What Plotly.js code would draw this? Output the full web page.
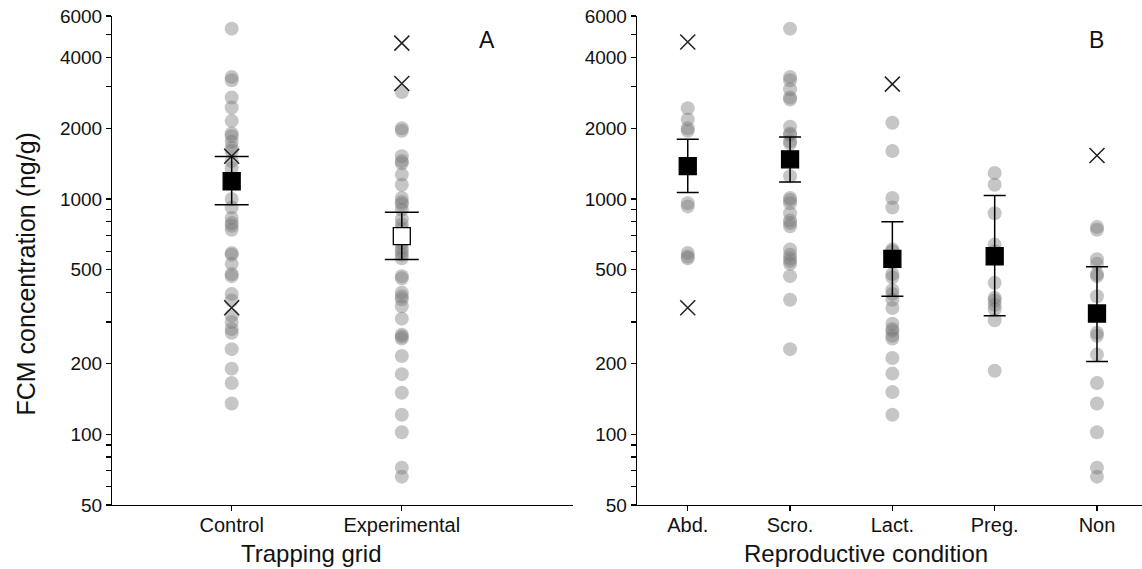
<!DOCTYPE html>
<html>
<head>
<meta charset="utf-8">
<script src="https://cdn.plot.ly/plotly-3.0.1.min.js"></script>
<style>html,body{margin:0;padding:0;background:#fff;}#chart{width:1142px;height:569px;}</style>
</head>
<body>
<div id="chart"></div>
<script>
// ---------- Panel A: Trapping grid ----------
const gridCategories = ["Control", "Experimental"];
const controlDots = [5300, 3300, 3200, 2700, 2450, 2150, 1900, 1850, 1750, 1650, 1600, 1450, 1350, 1000, 920, 830, 790, 770, 740, 590, 580, 530, 480, 470, 395, 370, 320, 300, 280, 270, 230, 190, 165, 135];
const experimentalDots = [2850, 2000, 1950, 1520, 1450, 1420, 1270, 1150, 1010, 970, 950, 900, 820, 780, 750, 700, 650, 620, 600, 580, 560, 470, 460, 400, 385, 375, 350, 310, 265, 260, 255, 215, 180, 150, 121, 102, 72, 66];
const controlOutliers = [1520, 345];
const experimentalOutliers = [4600, 3100];
const gridMeans = [1190, 695];
const gridUpper = [1518, 879];
const gridLower = [946, 553];

// ---------- Panel B: Reproductive condition ----------
const reproCategories = ["Abd.", "Scro.", "Lact.", "Preg.", "Non"];
const abdDots = [2430, 2180, 2000, 1950, 960, 930, 590, 570, 560];
const scroDots = [5300, 3300, 3200, 2930, 2700, 2650, 2030, 1900, 1870, 1760, 1720, 1250, 1010, 990, 960, 870, 810, 790, 765, 610, 580, 560, 545, 530, 470, 373, 230];
const lactDots = [2110, 1600, 1010, 920, 610, 600, 540, 480, 465, 410, 395, 373, 344, 295, 280, 275, 262, 255, 211, 181, 151, 121];
const pregDots = [1290, 1150, 870, 640, 600, 440, 380, 370, 355, 340, 305, 186];
const nonDots = [760, 740, 555, 530, 480, 470, 386, 270, 262, 218, 165, 135, 102, 72, 66];
const abdOutliers = [4650, 345];
const lactOutliers = [3080];
const nonOutliers = [1530];
const reproMeans = [1380, 1475, 556, 571, 326];
const reproUpper = [1795, 1835, 800, 1035, 515];
const reproLower = [1067, 1180, 386, 319, 204];

// ---------- Axis ticks ----------
const yTickVals = [50, 60, 70, 80, 90, 100, 200, 300, 400, 500, 600, 700, 800, 900, 1000, 2000, 3000, 4000, 5000, 6000];
const yTickLabels = ["50", "", "", "", "", "100", "200", "", "", "500", "", "", "", "", "1000", "2000", "", "4000", "", "6000"];

const FONT = "Liberation Sans, Arial, Helvetica, sans-serif";
const dotColor = "rgba(120,120,120,0.42)";

function dotsTrace(cat, vals, xa, ya) {
  return {
    type: "scatter", mode: "markers", xaxis: xa, yaxis: ya,
    x: vals.map(() => cat), y: vals,
    marker: { symbol: "circle", size: 14, color: dotColor, line: { width: 0 } },
    hoverinfo: "y"
  };
}
function outlierTrace(cat, vals, xa, ya) {
  return {
    type: "scatter", mode: "markers", xaxis: xa, yaxis: ya,
    x: vals.map(() => cat), y: vals,
    marker: { symbol: "x-thin", size: 15, color: "#222", line: { color: "#222", width: 1.5 } },
    hoverinfo: "y"
  };
}
function meanTrace(cats, means, upper, lower, xa, ya, fills, capWidth) {
  return {
    type: "scatter", mode: "markers", xaxis: xa, yaxis: ya,
    x: cats, y: means,
    error_y: {
      type: "data", symmetric: false,
      array: means.map((m, i) => upper[i] - m),
      arrayminus: means.map((m, i) => m - lower[i]),
      color: "#000", thickness: 1.5, width: capWidth
    },
    marker: { symbol: "square", size: 17, color: fills, line: { color: "#000", width: 1.3 } },
    hoverinfo: "y"
  };
}

const traces = [
  dotsTrace(gridCategories[0], controlDots, "x", "y"),
  dotsTrace(gridCategories[1], experimentalDots, "x", "y"),
  outlierTrace(gridCategories[0], controlOutliers, "x", "y"),
  outlierTrace(gridCategories[1], experimentalOutliers, "x", "y"),
  meanTrace(gridCategories, gridMeans, gridUpper, gridLower, "x", "y", ["#000", "#fff"], 17),

  dotsTrace(reproCategories[0], abdDots, "x2", "y2"),
  dotsTrace(reproCategories[1], scroDots, "x2", "y2"),
  dotsTrace(reproCategories[2], lactDots, "x2", "y2"),
  dotsTrace(reproCategories[3], pregDots, "x2", "y2"),
  dotsTrace(reproCategories[4], nonDots, "x2", "y2"),
  outlierTrace(reproCategories[0], abdOutliers, "x2", "y2"),
  outlierTrace(reproCategories[2], lactOutliers, "x2", "y2"),
  outlierTrace(reproCategories[4], nonOutliers, "x2", "y2"),
  meanTrace(reproCategories, reproMeans, reproUpper, reproLower, "x2", "y2", ["#000", "#000", "#000", "#000", "#000"], 11)
];

const yAxisCommon = {
  type: "log", range: [Math.log10(50), Math.log10(6000)],
  tickmode: "array", tickvals: yTickVals, ticktext: yTickLabels,
  ticks: "outside", ticklen: 5, tickwidth: 1.2, tickcolor: "#000",
  showline: true, linecolor: "#000", linewidth: 1.3,
  showgrid: false, zeroline: false,
  tickfont: { family: FONT, size: 19, color: "#111" }
};
const xAxisCommon = {
  type: "category",
  ticks: "outside", ticklen: 5, tickwidth: 1.2, tickcolor: "#000",
  showline: true, linecolor: "#000", linewidth: 1.3,
  showgrid: false, zeroline: false,
  ticklabelstandoff: -3,
  tickfont: { family: FONT, size: 20, color: "#111" }
};

const layout = {
  width: 1142, height: 569,
  margin: { l: 0, r: 0, t: 16, b: 64 },
  paper_bgcolor: "#fff", plot_bgcolor: "#fff",
  showlegend: false,
  xaxis: Object.assign({}, xAxisCommon, { domain: [0.0983, 0.502], range: [-0.702, 2.008], anchor: "y" }),
  yaxis: Object.assign({}, yAxisCommon, { anchor: "x" }),
  xaxis2: Object.assign({}, xAxisCommon, { domain: [0.5578, 1], range: [-0.496, 4.44], anchor: "y2" }),
  yaxis2: Object.assign({}, yAxisCommon, { anchor: "x2" }),
  annotations: [
    { text: "A", xref: "paper", yref: "paper", x: 487 / 1142, y: 1 - 28 / 569, xanchor: "center", yanchor: "middle", showarrow: false, font: { family: FONT, size: 23, color: "#111" } },
    { text: "B", xref: "paper", yref: "paper", x: 1096 / 1142, y: 1 - 28 / 569, xanchor: "center", yanchor: "middle", showarrow: false, font: { family: FONT, size: 23, color: "#111" } },
    { text: "Trapping grid", xref: "paper", yref: "paper", x: 312 / 1142, y: 0, yshift: -48, xanchor: "center", yanchor: "middle", showarrow: false, font: { family: FONT, size: 24, color: "#111" } },
    { text: "Reproductive condition", xref: "paper", yref: "paper", x: 866 / 1142, y: 0, yshift: -48, xanchor: "center", yanchor: "middle", showarrow: false, font: { family: FONT, size: 24, color: "#111" } },
    { text: "FCM concentration (ng/g)", xref: "paper", yref: "paper", x: 25 / 1142, y: 0.5, yshift: -14, xanchor: "center", yanchor: "middle", textangle: -90, showarrow: false, font: { family: FONT, size: 25, color: "#111" } }
  ]
};

Plotly.newPlot("chart", traces, layout, { displayModeBar: false, staticPlot: true });
</script>
</body>
</html>
